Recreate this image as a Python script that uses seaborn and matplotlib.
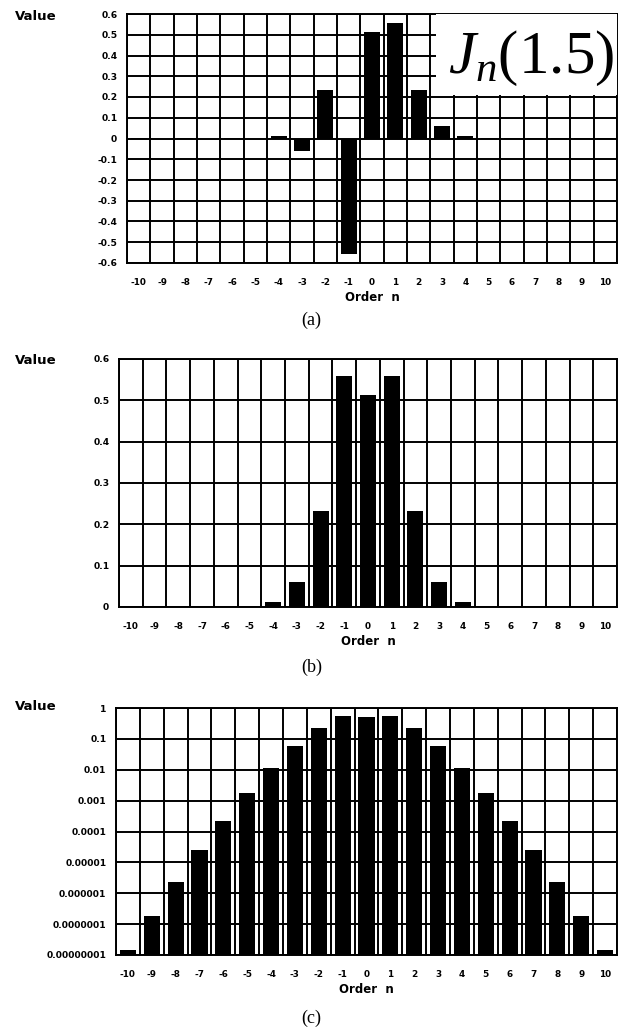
import matplotlib
matplotlib.use("Agg")
import matplotlib.pyplot as plt
import seaborn as sns
import pandas as pd
from matplotlib.patches import Rectangle
from matplotlib.ticker import FixedLocator

# Bessel function values J_n(1.5)
orders = list(range(-10, 11))
signed_values = [1.4e-8, -1.9e-7, 2.3e-6, -2.5e-5, 2.27e-4, -1.8e-3, 0.0118,
                 -0.061, 0.232, -0.558, 0.512, 0.558, 0.232, 0.061, 0.0118, 0.0018,
                 2.27e-4, 2.5e-5, 2.3e-6, 1.9e-7, 1.4e-8]
abs_values = [1.4e-8, 1.9e-7, 2.3e-6, 2.5e-5, 2.27e-4, 1.8e-3, 0.0118,
              0.061, 0.232, 0.558, 0.512, 0.558, 0.232, 0.061, 0.0118, 0.0018,
              2.27e-4, 2.5e-5, 2.3e-6, 1.9e-7, 1.4e-8]
lin_ticks_a = [-0.6, -0.5, -0.4, -0.3, -0.2, -0.1, 0, 0.1, 0.2, 0.3, 0.4, 0.5, 0.6]
lin_ticks_b = [0, 0.1, 0.2, 0.3, 0.4, 0.5, 0.6]
log_ticks = [1e-8, 1e-7, 1e-6, 1e-5, 1e-4, 1e-3, 1e-2, 1e-1, 1]
log_labels = ["0.00000001", "0.0000001", "0.000001", "0.00001", "0.0001",
              "0.001", "0.01", "0.1", "1"]

sns.set_style("white")
plt.rcParams["font.family"] = ["DejaVu Sans"]
plt.rcParams["mathtext.fontset"] = "custom"
plt.rcParams["mathtext.rm"] = "Liberation Serif"
plt.rcParams["mathtext.it"] = "Liberation Serif:italic"
for k in ["text.color", "axes.labelcolor", "xtick.color", "ytick.color"]:
    plt.rcParams[k] = "black"

W, H = 623, 1030
fig = plt.figure(figsize=(W / 100, H / 100), dpi=100)


def box(l, t, r, b):
    return [l / W, 1 - b / H, (r - l) / W, (b - t) / H]


def panel(rect, values, log=False):
    ax = fig.add_axes(rect)
    if log:
        ax.set_yscale("log")
    df = pd.DataFrame({"order": orders, "value": values})
    sns.barplot(data=df, x="order", y="value", color="black", width=0.68,
                saturation=1, linewidth=0, edgecolor="black", ax=ax, zorder=2)
    ax.set_xlim(-0.5, len(orders) - 0.5)
    ax.xaxis.set_minor_locator(FixedLocator([i - 0.5 for i in range(len(orders) + 1)]))
    ax.set_xticks(range(len(orders)))
    ax.set_xticklabels([str(o) for o in orders])
    ax.set_axisbelow(True)
    ax.grid(True, which="minor", axis="x", color="black", lw=1.4)
    ax.grid(True, which="major", axis="y", color="black", lw=1.4)
    ax.grid(False, which="major", axis="x")
    ax.tick_params(axis="x", which="major", length=0, pad=11, labelsize=6.4)
    ax.tick_params(axis="x", which="minor", length=3, width=1, direction="out")
    ax.tick_params(axis="y", which="major", length=3, width=1, pad=4, labelsize=6.6)
    ax.tick_params(axis="y", which="minor", length=0)
    for lab in ax.get_xticklabels() + ax.get_yticklabels():
        lab.set_fontweight("bold")
    for s in ax.spines.values():
        s.set_color("black")
        s.set_linewidth(1.4)
    ax.set_xlabel("Order  n", fontsize=8.5, fontweight="bold", labelpad=3)
    ax.set_ylabel("")
    return ax


# (a) signed values
ax_a = panel(box(127, 14, 617, 263), signed_values)
ax_a.set_ylim(-0.6, 0.6)
ax_a.set_yticks(lin_ticks_a)
ax_a.set_yticklabels([f"{t:g}" for t in lin_ticks_a], fontweight="bold")
ax_a.add_patch(Rectangle((0.63, 0.675), 0.37, 0.325, transform=ax_a.transAxes,
                         facecolor="white", edgecolor="none", zorder=3))
ax_a.text(0.995, 0.94, r"$J_n\mathrm{(1.5)}$", transform=ax_a.transAxes,
          ha="right", va="top", fontsize=44, zorder=4)
fig.text(15 / W, 1 - 16 / H, "Value", fontsize=9.5, fontweight="bold", va="center")
fig.text(0.5, 1 - 320 / H, "(a)", fontsize=13, ha="center", va="center",
         family="Liberation Serif")

# (b) magnitudes, linear
ax_b = panel(box(119, 359, 617, 607), abs_values)
ax_b.set_ylim(0, 0.6)
ax_b.set_yticks(lin_ticks_b)
ax_b.set_yticklabels([f"{t:g}" for t in lin_ticks_b], fontweight="bold")
fig.text(15 / W, 1 - 361 / H, "Value", fontsize=9.5, fontweight="bold", va="center")
fig.text(0.5, 1 - 667 / H, "(b)", fontsize=13, ha="center", va="center",
         family="Liberation Serif")

# (c) magnitudes, log
ax_c = panel(box(116, 708, 617, 955), abs_values, log=True)
ax_c.set_ylim(1e-8, 1)
ax_c.set_yticks(log_ticks)
ax_c.set_yticklabels(log_labels, fontweight="bold")
ax_c.tick_params(axis="y", which="minor", length=0)
fig.text(15 / W, 1 - 706 / H, "Value", fontsize=9.5, fontweight="bold", va="center")
fig.text(0.5, 1 - 1018 / H, "(c)", fontsize=13, ha="center", va="center",
         family="Liberation Serif")

fig.savefig("out.png", dpi=100, facecolor="white")
